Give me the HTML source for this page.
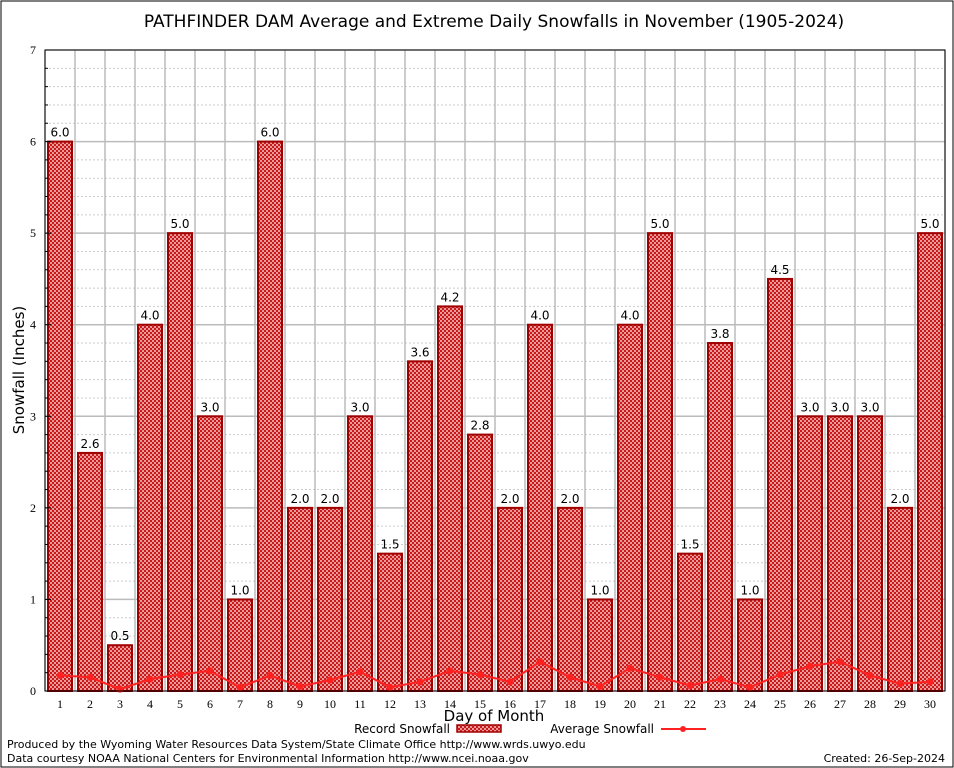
<!DOCTYPE html>
<html><head><meta charset="utf-8"><style>
body{margin:0;background:#fff;}
svg{display:block;}
</style></head><body>
<svg id="chart" width="954" height="768" xmlns="http://www.w3.org/2000/svg">
<defs>
<pattern id="chk" width="4" height="4" patternUnits="userSpaceOnUse">
<rect width="4" height="4" fill="#c81a1a"/>
<rect x="0" y="0" width="2" height="2" fill="#e89a9a"/>
<rect x="2" y="2" width="2" height="2" fill="#e89a9a"/>
</pattern>
</defs>
<rect x="1" y="1" width="952" height="766" fill="#fff" stroke="#000" stroke-width="1"/>
<text x="494" y="27" text-anchor="middle" font-family="DejaVu Sans, Liberation Sans, sans-serif" font-size="17">PATHFINDER DAM Average and Extreme Daily Snowfalls in November (1905-2024)</text>
<g id="grid"></g>
<g id="bars"></g>
<g id="avg"></g>
<g id="axes"></g>
<text x="24" y="370" transform="rotate(-90 24 370)" text-anchor="middle" font-family="DejaVu Sans, Liberation Sans, sans-serif" font-size="15">Snowfall (Inches)</text>
<text x="494" y="721" text-anchor="middle" font-family="DejaVu Sans, Liberation Sans, sans-serif" font-size="15">Day of Month</text>
<g>
<text x="450" y="733" text-anchor="end" font-family="DejaVu Sans, Liberation Sans, sans-serif" font-size="12">Record Snowfall</text>
<rect x="457" y="725" width="44" height="7" fill="url(#chk)" stroke="#a00000" stroke-width="1.5"/>
</g>
<g>
<text x="654" y="733" text-anchor="end" font-family="DejaVu Sans, Liberation Sans, sans-serif" font-size="12">Average Snowfall</text>
<line x1="661" y1="729" x2="706" y2="729" stroke="#ff2020" stroke-width="2"/>
<circle cx="683" cy="729" r="3" fill="#ff2020"/>
</g>
<text x="7" y="748" font-family="DejaVu Sans, Liberation Sans, sans-serif" font-size="11">Produced by the Wyoming Water Resources Data System/State Climate Office http://www.wrds.uwyo.edu</text>
<text x="7" y="762" font-family="DejaVu Sans, Liberation Sans, sans-serif" font-size="11">Data courtesy NOAA National Centers for Environmental Information http://www.ncei.noaa.gov</text>
<text x="945" y="762" text-anchor="end" font-family="DejaVu Sans, Liberation Sans, sans-serif" font-size="11">Created:  26-Sep-2024</text>
</svg>
<script>
const days=[1,2,3,4,5,6,7,8,9,10,11,12,13,14,15,16,17,18,19,20,21,22,23,24,25,26,27,28,29,30];
const recordSnow=[6.0,2.6,0.5,4.0,5.0,3.0,1.0,6.0,2.0,2.0,3.0,1.5,3.6,4.2,2.8,2.0,4.0,2.0,1.0,4.0,5.0,1.5,3.8,1.0,4.5,3.0,3.0,3.0,2.0,5.0];
const avgSnow=[0.17,0.15,0.02,0.13,0.18,0.22,0.04,0.17,0.05,0.12,0.21,0.04,0.10,0.22,0.18,0.10,0.32,0.15,0.05,0.25,0.15,0.06,0.13,0.04,0.18,0.27,0.32,0.17,0.08,0.10];
const yTicks=[0,1,2,3,4,5,6,7];
const NS='http://www.w3.org/2000/svg';
const L=45,R=945,T=50,B=691,YMAX=7;
const slot=(R-L)/days.length;
function xC(i){return L+slot*(i+0.5);}
function yS(v){return B-(v/YMAX)*(B-T);}
function mk(tag,attrs,parent){const e=document.createElementNS(NS,tag);for(const k in attrs)e.setAttribute(k,attrs[k]);parent.appendChild(e);return e;}
const grid=document.getElementById('grid'),bars=document.getElementById('bars'),avg=document.getElementById('avg'),axes=document.getElementById('axes');
for(let v=0;v<=YMAX+1e-9;v+=0.2){
  const y=yS(v);const major=Math.abs(v-Math.round(v))<1e-6;
  const ln=mk('line',{x1:L,x2:R,y1:y,y2:y,stroke:major?'#bbb':'#ccc','stroke-width':major?1.5:1,'stroke-dasharray':major?'':'2,2'},grid);
  
  
  const tk=mk('line',{x1:L,x2:L+(major?6:3),y1:y,y2:y,stroke:'#000','stroke-width':1},axes);
  
  
}
for(let i=0;i<=days.length;i++){
  const x=L+slot*i;
  const ln=mk('line',{x1:x,x2:x,y1:T,y2:B,stroke:'#bbb','stroke-width':1.5},grid);
  
  
}
recordSnow.forEach((v,i)=>{
  const x=xC(i),w=24,y=yS(v);
  const r=mk('rect',{x:x-w/2,y:y,width:w,height:B-y,fill:'url(#chk)',stroke:'#a00000','stroke-width':2},bars);
  
  
  const t=mk('text',{x:x,y:y-5,'text-anchor':'middle','font-family':'DejaVu Sans, Liberation Sans, sans-serif','font-size':12,fill:'#000'},bars);
  t.textContent=v.toFixed(1);
  
  
});
const pts=avgSnow.map((v,i)=>xC(i)+','+yS(v)).join(' ');
const pl=mk('polyline',{points:pts,fill:'none',stroke:'#ff2020','stroke-width':2},avg);


avgSnow.forEach((v,i)=>{
  const c=mk('circle',{cx:xC(i),cy:yS(v),r:3.5,fill:'#ff2020'},avg);
  
  
});
const fr=mk('rect',{x:L,y:T,width:R-L,height:B-T,fill:'none',stroke:'#000','stroke-width':1},axes);


yTicks.forEach(v=>{
  const t=mk('text',{x:L-9,y:yS(v)+4,'text-anchor':'end','font-family':'Liberation Serif, serif','font-size':12},axes);
  t.textContent=v;
  
  
});
days.forEach((d,i)=>{
  const t=mk('text',{x:xC(i),y:B+17,'text-anchor':'middle','font-family':'Liberation Serif, serif','font-size':12},axes);
  t.textContent=d;
  
  
});
</script>
</body></html>
